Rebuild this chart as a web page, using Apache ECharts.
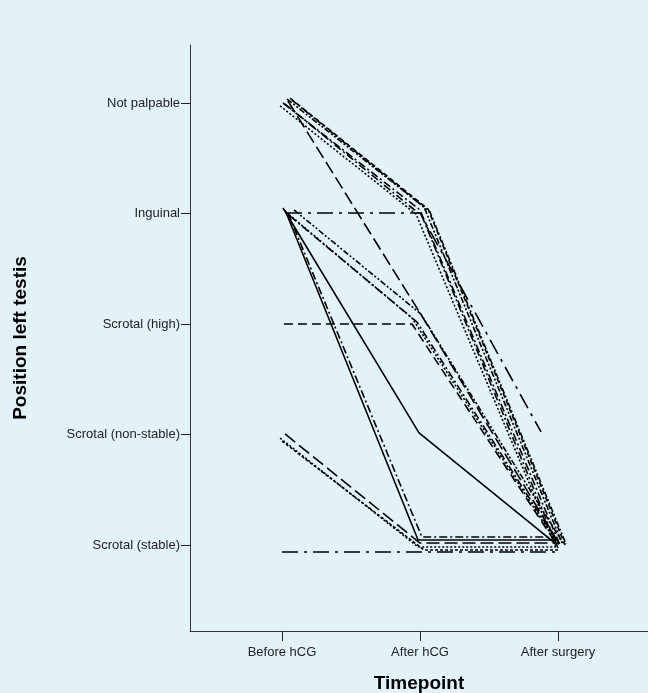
<!DOCTYPE html>
<html>
<head>
<meta charset="utf-8">
<script src="https://cdn.jsdelivr.net/npm/echarts@6/dist/echarts.min.js"></script>
<style>
html,body{margin:0;padding:0;background:#e2f2f8;}
#chart{width:648px;height:693px;}
</style>
</head>
<body>
<div id="chart"></div>
<script>
// Categories
const timepoints = ['Before hCG', 'After hCG', 'After surgery'];
const positions = ['Scrotal (stable)', 'Scrotal (non-stable)', 'Scrotal (high)', 'Inguinal', 'Not palpable'];

// Individual trajectories as drawn (jittered x, jittered y)
const subjA1 = [[1.007, 5.000], [2.000, 4.032], [3.014, 1.000]];
const subjA2 = [[1.036, 5.036], [2.029, 4.059], [3.029, 1.018]];
const subjA3 = [[1.058, 5.045], [2.058, 4.041], [3.051, 1.000]];
const subjA4 = [[0.986, 4.973], [1.971, 3.995], [2.986, 0.982]];
const subjA5 = [[1.022, 4.991], [2.014, 3.977], [3.000, 0.973]];
const subjA6 = [[1.072, 5.027], [2.072, 4.014], [3.058, 1.009]];
const subjB1 = [[1.043, 5.018], [2.014, 3.072], [3.014, 1.000]];
const subjC1 = [[1.029, 4.005], [2.000, 4.005], [2.877, 2.023]];
const subjD1 = [[1.029, 4.014], [1.942, 3.054], [2.986, 1.027]];
const subjD2 = [[1.058, 3.977], [1.978, 3.018], [3.014, 0.991]];
const subjD3 = [[1.087, 4.032], [2.007, 3.090], [3.036, 1.018]];
const subjG1 = [[1.014, 3.000], [1.942, 3.000], [2.993, 1.000]];
const subjE1 = [[1.022, 4.032], [1.986, 1.045], [2.978, 1.045]];
const subjE2 = [[1.043, 4.005], [2.014, 1.072], [2.964, 1.072]];
const subjF1 = [[1.007, 4.050], [1.993, 2.014], [2.978, 1.018]];
const subjH1 = [[1.022, 2.005], [2.000, 1.018], [3.000, 1.018]];
const subjH2 = [[0.986, 1.968], [1.986, 0.982], [2.986, 0.982]];
const subjH3 = [[1.000, 1.941], [2.029, 0.955], [3.014, 0.955]];
const subjI1 = [[1.000, 0.937], [2.000, 0.937], [3.000, 0.937]];

const subjects = [subjA1, subjA2, subjA3, subjA4, subjA5, subjA6, subjB1, subjC1,
  subjD1, subjD2, subjD3, subjG1, subjE1, subjE2, subjF1, subjH1, subjH2, subjH3, subjI1];

// dash patterns per subject (style only)
const DASHDOT = [8, 3, 2, 3];
const LONGDASHDOT = [16, 6, 3, 6];
const DOTTED = [2, 2];
const DASHED = [5, 3];
const LONGDASH = [13, 5];
const DASHDOTDOT = [6, 2, 2, 2, 2, 2];
const SOLID = 'solid';
const styles = [DASHDOT, DASHDOTDOT, DASHED, DOTTED, DASHDOT, DASHDOTDOT, LONGDASH, LONGDASHDOT,
  DOTTED, DASHDOT, DASHDOTDOT, [9, 5], SOLID, DASHDOT, SOLID, LONGDASH, DOTTED, [3, 2], LONGDASHDOT];

const chart = echarts.init(document.getElementById('chart'));
const font = 'Liberation Sans, Arial, sans-serif';

const option = {
  backgroundColor: '#e2f2f8',
  animation: false,
  grid: { left: 190, top: 45, right: 0, bottom: 62, containLabel: false, outerBoundsMode: 'none' },
  xAxis: {
    type: 'value',
    min: 1 + (190 - 282) / 138,
    max: 1 + (648 - 282) / 138,
    name: 'Timepoint',
    nameLocation: 'middle',
    nameGap: 43,
    nameTextStyle: { fontFamily: font, fontSize: 19, fontWeight: 'bold', color: '#000' },
    axisLine: { show: true, onZero: false, lineStyle: { color: '#333', width: 1 } },
    axisTick: { show: true, customValues: [1, 2, 3], length: 10, lineStyle: { color: '#222' } },
    axisLabel: {
      customValues: [1, 2, 3],
      formatter: v => timepoints[Math.round(v) - 1] || '',
      fontFamily: font, fontSize: 13, color: '#222', margin: 15
    },
    splitLine: { show: false }
  },
  yAxis: {
    type: 'value',
    min: 1 + (545 - 631) / 110.5,
    max: 1 + (545 - 45) / 110.5,
    name: 'Position left testis',
    nameLocation: 'middle',
    nameGap: 160,
    nameTextStyle: { fontFamily: font, fontSize: 19, fontWeight: 'bold', color: '#000' },
    axisLine: { show: true, onZero: false, lineStyle: { color: '#333', width: 1 } },
    axisTick: { show: true, customValues: [1, 2, 3, 4, 5], length: 9, lineStyle: { color: '#222' } },
    axisLabel: {
      customValues: [1, 2, 3, 4, 5],
      formatter: v => positions[Math.round(v) - 1] || '',
      fontFamily: font, fontSize: 13, color: '#222', margin: 10
    },
    splitLine: { show: false }
  },
  series: subjects.map((pts, i) => ({
    type: 'line',
    data: pts,
    symbol: 'none',
    clip: true,
    lineStyle: { color: '#000', width: 1.6, type: styles[i] },
    emphasis: { disabled: true }
  }))
};
chart.setOption(option);
</script>
</body>
</html>
